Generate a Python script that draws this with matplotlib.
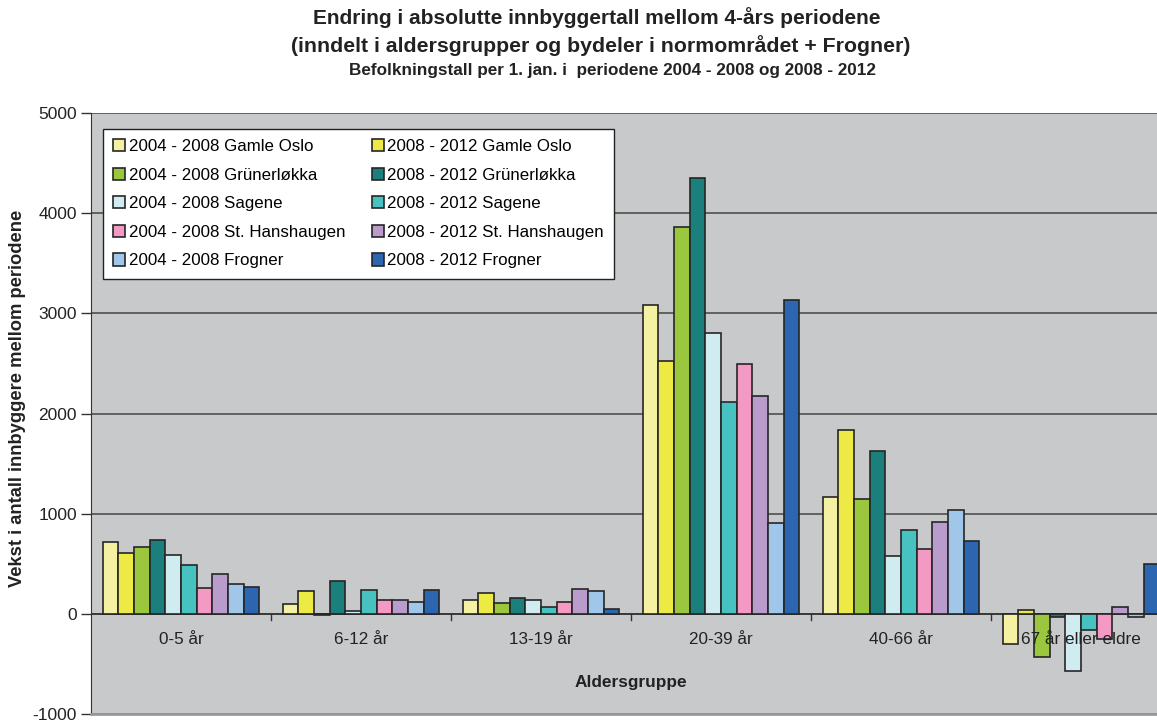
import numpy as np
import matplotlib.pyplot as plt

plt.rcParams['font.family'] = ['Liberation Sans', 'DejaVu Sans']
plt.rcParams['axes.unicode_minus'] = False

groups = ['0-5 år', '6-12 år', '13-19 år', '20-39 år', '40-66 år', '67 år eller eldre']

series_names = ['2004 - 2008 Gamle Oslo', '2008 - 2012 Gamle Oslo',
                '2004 - 2008 Grünerløkka', '2008 - 2012 Grünerløkka',
                '2004 - 2008 Sagene', '2008 - 2012 Sagene',
                '2004 - 2008 St. Hanshaugen', '2008 - 2012 St. Hanshaugen',
                '2004 - 2008 Frogner', '2008 - 2012 Frogner']

go_0408 = [720, 97, 140, 3080, 1170, -300]
go_0812 = [610, 223, 207, 2520, 1840, 37]
gr_0408 = [670, -10, 110, 3860, 1150, -433]
gr_0812 = [740, 323, 163, 4350, 1622, -27]
sa_0408 = [590, 33, 137, 2800, 581, -570]
sa_0812 = [487, 233, 70, 2110, 837, -160]
sh_0408 = [253, 137, 117, 2490, 651, -250]
sh_0812 = [397, 137, 247, 2170, 917, 73]
fr_0408 = [293, 120, 223, 910, 1040, -27]
fr_0812 = [270, 233, 50, 3130, 725, 493]

values = [go_0408, go_0812, gr_0408, gr_0812, sa_0408, sa_0812,
          sh_0408, sh_0812, fr_0408, fr_0812]

colors = ['#F5F1A2', '#EDEA45', '#9BC73E', '#1B7F7C', '#D0ECF0',
          '#47C2C0', '#F29AC4', '#B99CCB', '#A0C6EA', '#2C66B0']

fig = plt.figure(figsize=(11.57, 7.2), dpi=100)
ax = fig.add_axes([91/1157, 6/720, 1080/1157, 601/720])
ax.set_facecolor('#C8C9CB')

x = np.arange(len(groups))
w = 0.0872
handles = []
for i, (vals, c) in enumerate(zip(values, colors)):
    b = ax.bar(x - 5*w + w/2 + i*w, vals, w, color=c, edgecolor='#262626',
               linewidth=1.2, label=series_names[i], zorder=3)
    handles.append(b)

ax.set_xlim(-0.5, 5.5)
ax.set_ylim(-1000, 5000)
ax.set_yticks(range(-1000, 5001, 1000))
ax.tick_params(axis='y', labelsize=12.5, length=7, width=1, colors='#333333',
               labelcolor='#222222', pad=3)
ax.set_xticks([])
ax.grid(axis='y', color='#444444', linewidth=1.1, zorder=1)
ax.axhline(0, color='#333333', linewidth=1.2, zorder=2)
for xb in np.arange(0.5, 5.5, 1):
    ax.plot([xb, xb], [0, -60], color='#333333', linewidth=1, zorder=2)

for s in ['top', 'right']:
    ax.spines[s].set_visible(False)
ax.spines['left'].set_color('#333333')
ax.spines['bottom'].set_color('#999999')
ax.spines['bottom'].set_linewidth(2)

for xi, g in zip(x, groups):
    ax.text(xi, -255, g, ha='center', va='center', fontsize=12.3, color='#222222', zorder=4)
ax.text(0.5, 1 - (683 - 113) / 601, 'Aldersgruppe', transform=ax.transAxes,
        ha='center', va='center', fontsize=12.4, fontweight='bold', color='#222222')

fig.text(18/1157, 1 - 398/720, 'Vekst i antall innbyggere mellom periodene',
         rotation=90, ha='center', va='center', fontsize=13.2, fontweight='bold',
         color='#222222')

fig.text(597/1157, 1 - 18/720, 'Endring i absolutte innbyggertall mellom 4-års periodene',
         ha='center', va='center', fontsize=15, fontweight='bold', color='#222222')
fig.text(601/1157, 1 - 46/720, '(inndelt i aldersgrupper og bydeler i normområdet + Frogner)',
         ha='center', va='center', fontsize=15.3, fontweight='bold', color='#222222')
fig.text(612/1157, 1 - 71/720, 'Befolkningstall per 1. jan. i  periodene 2004 - 2008 og 2008 - 2012',
         ha='center', va='center', fontsize=12.3, fontweight='bold', color='#222222')

order = [0, 2, 4, 6, 8, 1, 3, 5, 7, 9]
leg = ax.legend([handles[i] for i in order], [series_names[i] for i in order],
                ncol=2, loc='upper left',
                bbox_to_anchor=((103 - 91) / 1080, (714 - 129) / 601),
                borderaxespad=0, fontsize=12.2, frameon=True, fancybox=False,
                handlelength=0.72, handleheight=0.72, handletextpad=0.2,
                columnspacing=1.55, labelspacing=0.8, borderpad=0.6)
leg.get_frame().set_edgecolor('#222222')
leg.get_frame().set_facecolor('white')
leg.get_frame().set_alpha(1)
leg.get_frame().set_linewidth(1)
leg.set_zorder(5)

fig.savefig('out.png', dpi=100)
